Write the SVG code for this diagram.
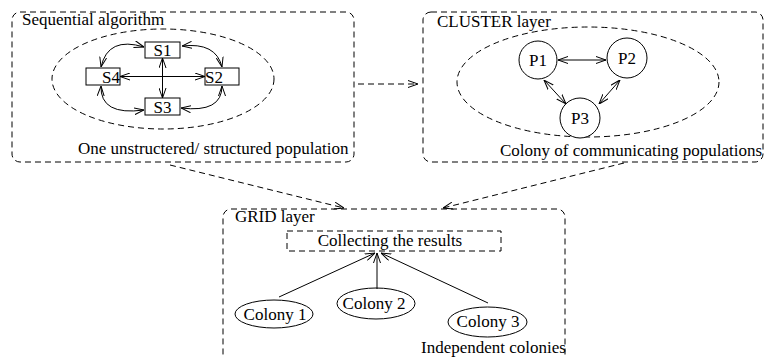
<svg xmlns="http://www.w3.org/2000/svg" width="765" height="358" viewBox="0 0 765 358" font-family="'Liberation Serif', 'DejaVu Serif', serif">
  <defs>
    <!-- open V arrowhead, used at both ends of two-way links -->
    <marker id="vhead" viewBox="0 0 10 8" refX="10" refY="4" markerWidth="10" markerHeight="8" markerUnits="userSpaceOnUse" orient="auto-start-reverse">
      <path d="M0,0.5 L10,4 L0,7.5" fill="none" stroke="#000" stroke-width="1"/>
    </marker>
    <style>
      text { font-family: "Liberation Serif", "DejaVu Serif", serif; font-size: 17px; fill: #000; }
      .layer { fill: none; stroke: #000; stroke-width: 1; stroke-dasharray: 6 4; }
      .region { fill: none; stroke: #000; stroke-width: 1; stroke-dasharray: 6 4; }
      .node { fill: #fff; stroke: #000; stroke-width: 1; }
      .link { fill: none; stroke: #000; stroke-width: 1; marker-start: url(#vhead); marker-end: url(#vhead); }
      .flow { fill: none; stroke: #000; stroke-width: 1; marker-end: url(#vhead); }
      .dflow { fill: none; stroke: #000; stroke-width: 1; stroke-dasharray: 6 4; marker-end: url(#vhead); }
      .mid { text-anchor: middle; }
    </style>
  </defs>

  <rect width="765" height="358" fill="#fff"/>

  <!-- Sequential algorithm layer -->
  <g id="sequential">
    <rect class="layer" x="12" y="12" width="342" height="150" rx="8"/>
    <text x="22" y="25">Sequential algorithm</text>
    <ellipse class="region" cx="163" cy="79" rx="111" ry="50"/>
    <text x="78" y="154">One unstructered/ structured population</text>
  </g>
  <g id="s1"><rect class="node" x="145" y="42" width="35" height="16"/><text class="mid" x="162.5" y="56">S1</text></g>
  <g id="s2"><rect class="node" x="205" y="68" width="34" height="17"/><text x="205" y="83">S2</text></g>
  <g id="s3"><rect class="node" x="145" y="98" width="35" height="17"/><text class="mid" x="162.5" y="113">S3</text></g>
  <g id="s4"><rect class="node" x="86" y="68" width="34" height="17"/><text x="120" y="83" text-anchor="end">S4</text></g>

  <!-- CLUSTER layer -->
  <g id="cluster">
    <rect class="layer" x="423" y="12" width="340" height="150" rx="8"/>
    <text x="437" y="27">CLUSTER layer</text>
    <ellipse class="region" cx="588" cy="82" rx="131" ry="55"/>
    <text x="500" y="156">Colony of communicating populations</text>
  </g>
  <g id="p1"><circle class="node" cx="538" cy="60" r="19"/><text class="mid" x="538" y="66">P1</text></g>
  <g id="p2"><circle class="node" cx="627" cy="58" r="20"/><text class="mid" x="627" y="64">P2</text></g>
  <g id="p3"><circle class="node" cx="580" cy="118" r="20"/><text class="mid" x="580" y="124">P3</text></g>

  <!-- GRID layer -->
  <g id="grid">
    <rect class="layer" x="223" y="209" width="342" height="170" rx="8"/>
    <text x="235" y="222">GRID layer</text>
    <text x="421" y="353">Independent colonies</text>
  </g>
  <g id="collect">
    <rect class="region" x="287" y="231" width="214" height="20"/>
    <text class="mid" x="390" y="246">Collecting the results</text>
  </g>
  <g id="colony1"><ellipse class="node" cx="274" cy="314" rx="39" ry="14"/><text class="mid" x="275" y="320">Colony 1</text></g>
  <g id="colony2"><ellipse class="node" cx="376" cy="303.5" rx="39" ry="15.5"/><text class="mid" x="374" y="309">Colony 2</text></g>
  <g id="colony3"><ellipse class="node" cx="487.5" cy="322" rx="39.5" ry="15"/><text class="mid" x="488" y="327">Colony 3</text></g>

  <!-- connectors -->
  <g id="connectors">
    <!-- sequential population links -->
    <line class="link" x1="120" y1="76.5" x2="205" y2="76.5"/>
    <line class="link" x1="162.5" y1="58" x2="162.5" y2="98"/>
    <path class="link" d="M144,47 Q108,36 101,67"/>
    <path class="link" d="M182,46 Q216,42 222,67"/>
    <path class="link" d="M222,86 Q222,113 181,108"/>
    <path class="link" d="M101,86 Q100,116 144,110"/>
    <!-- cluster links -->
    <line class="link" x1="558" y1="60" x2="606" y2="60"/>
    <line class="link" x1="544" y1="80" x2="566" y2="104"/>
    <line class="link" x1="620" y1="80" x2="599" y2="104"/>
    <!-- layer transitions -->
    <line class="dflow" x1="358" y1="84" x2="418" y2="84"/>
    <line class="dflow" x1="170" y1="165" x2="344" y2="208"/>
    <line class="dflow" x1="624" y1="163" x2="443" y2="208"/>
    <!-- colonies to result collection -->
    <line class="flow" x1="279" y1="297" x2="375" y2="253"/>
    <line class="flow" x1="377" y1="289" x2="377" y2="253"/>
    <line class="flow" x1="488" y1="303" x2="381" y2="253"/>
  </g>
</svg>
